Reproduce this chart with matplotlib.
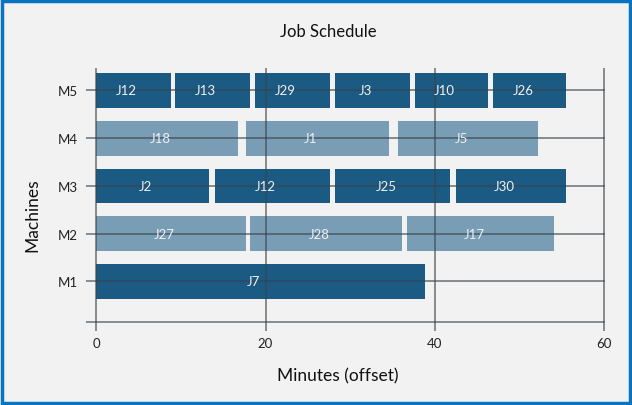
import matplotlib
matplotlib.use('Agg')
import matplotlib.pyplot as plt
from matplotlib.patches import Rectangle

plt.rcParams['font.family'] = ['Lato', 'DejaVu Sans']

# data
machines = ['M1', 'M2', 'M3', 'M4', 'M5']
job_machine = ['M5', 'M5', 'M5', 'M5', 'M5', 'M5',
               'M4', 'M4', 'M4',
               'M3', 'M3', 'M3', 'M3',
               'M2', 'M2', 'M2',
               'M1']
job_name = ['J12', 'J13', 'J29', 'J3', 'J10', 'J26',
            'J18', 'J1', 'J5',
            'J2', 'J12', 'J25', 'J30',
            'J27', 'J28', 'J17',
            'J7']
job_start = [0, 9.3, 18.7, 28.2, 37.6, 46.9,
             0, 17.7, 35.6,
             0, 14.0, 28.2, 42.5,
             0, 18.2, 36.7,
             0]
job_end = [8.8, 18.2, 27.6, 37.0, 46.3, 55.5,
           16.8, 34.6, 52.2,
           13.3, 27.6, 41.8, 55.5,
           17.7, 36.1, 54.1,
           38.8]
x_ticks = [0, 20, 40, 60]

DARK = '#1b5a83'
LIGHT = '#799db4'
LINE = '#3a434c'
BG = '#f2f2f2'

fig = plt.figure(figsize=(6.32, 4.06), dpi=100, facecolor=BG)
ax = fig.add_axes([0.136, 0.182, 0.823, 0.648])
ax.set_facecolor(BG)

ypos = {m: i + 1 for i, m in enumerate(machines)}
for name, m, s, e in zip(job_name, job_machine, job_start, job_end):
	y = ypos[m]
	col = DARK if m in ('M1', 'M3', 'M5') else LIGHT
	ax.barh(y, e - s, left=s, height=0.73, color=col, zorder=2)
	ax.text((s + e) / 2 - 0.8, y, name, color='#eef2f5', fontsize=9.5,
			ha='center', va='center', zorder=4)

# grid lines drawn over the bars
x0, x1 = -1.2, 60
y0, y1 = -0.04, 5.47
for m in machines:
	ax.plot([x0, x1], [ypos[m], ypos[m]], color=LINE, lw=1.1, alpha=0.75, zorder=3)
ax.plot([x0, x1], [0.15, 0.15], color=LINE, lw=1.1, alpha=0.75, zorder=3)
for xt in x_ticks:
	ax.plot([xt, xt], [y0, y1], color=LINE, lw=1.1, alpha=0.75, zorder=3)

ax.set_xlim(x0, 60.2)
ax.set_ylim(y0, y1)
for sp in ax.spines.values():
	sp.set_visible(False)
ax.set_xticks(x_ticks)
ax.set_xticklabels([str(v) for v in x_ticks], fontsize=9.5, color='#222222')
ax.set_yticks([ypos[m] for m in machines])
ax.set_yticklabels(machines, fontsize=9.5, color='#222222')
ax.tick_params(axis='x', length=0, pad=4)
ax.tick_params(axis='y', length=0, pad=6)

fig.text(0.519, 0.921, 'Job Schedule', ha='center', va='center', fontsize=12, color='#111111')
fig.text(0.535, 0.074, 'Minutes (offset)', ha='center', va='center', fontsize=12.5, color='#111111')
fig.text(0.051, 0.47, 'Machines', ha='center', va='center', rotation=90, fontsize=12.5, color='#111111')

fig.patches.append(Rectangle((0.0025, 0.004), 0.995, 0.992, transform=fig.transFigure,
							 fill=False, edgecolor='#0a74c0', linewidth=2.5))

fig.savefig('out.png', dpi=100, facecolor=BG)
